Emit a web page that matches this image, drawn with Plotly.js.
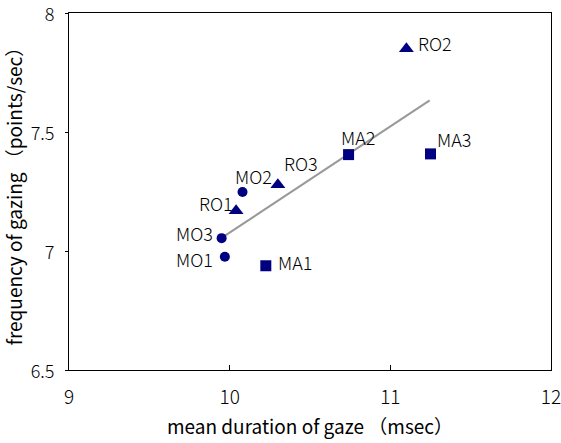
<!DOCTYPE html>
<html><head><meta charset="utf-8">
<script src="https://cdn.plot.ly/plotly-3.0.1.min.js"></script>
<style>body{margin:0;background:#fff}</style>
</head><body><div id="c" style="width:561px;height:443px"></div>
<script>
const labels = ["MO1","MO2","MO3","RO1","RO2","RO3","MA1","MA2","MA3"];
const durations = [9.97, 10.08, 9.95, 10.04, 11.10, 10.30, 10.225, 10.74, 11.25];
const frequencies = [6.976, 7.248, 7.054, 7.169, 7.85, 7.278, 6.938, 7.405, 7.408];
const groups = ["circle","circle","circle","triangle-up","triangle-up","triangle-up","square","square","square"];
const trendX = [9.95, 11.245];
const trendY = [7.055, 7.633];
const xTicks = [9, 10, 11, 12];
const yTicks = [6.5, 7, 7.5, 8];

// label placement style: [xanchor, xshift, yshift]
const labelStyle = {
 MO1:["right",-10,-2], MO2:["center",11,16], MO3:["right",-7,5], RO1:["right",-1,8],
 RO2:["left",10,6], RO3:["left",4,22], MA1:["left",10,4], MA2:["center",9,18], MA3:["left",4,15]
};
const sizes = {"circle":10,"triangle-up":13,"square":11};
const font = "Noto Sans CJK JP, sans-serif";

const traces = [
 {x: trendX, y: trendY, mode:"lines", line:{color:"#999999", width:2}, hoverinfo:"skip", showlegend:false},
 {x: durations, y: frequencies, mode:"markers",
  marker:{symbol: groups, size: groups.map(g=>sizes[g]), color:"#000080", opacity:1, line:{width:0}},
  showlegend:false}
];
const annotations = labels.map((l,i)=>({
 x: durations[i], y: frequencies[i], xref:"x", yref:"y", text:l, showarrow:false,
 xanchor: labelStyle[l][0], yanchor:"middle", xshift: labelStyle[l][1], yshift: labelStyle[l][2],
 font:{family:font, size:18, weight:300, color:"#000"}
}));
const layout = {
 width:561, height:443,
 margin:{l:69, r:10, t:13, b:73},
 paper_bgcolor:"#fff", plot_bgcolor:"#fff",
 font:{family:font, size:18, weight:300, color:"#000"},
 annotations: annotations,
 xaxis:{range:[9,12], tickvals:xTicks, ticktext:xTicks.map(String), ticks:"inside", ticklen:5, tickcolor:"#000",
   ticklabelstandoff:10, ticklabeloverflow:"allow", tickfont:{family:font, size:19, weight:300},
   showgrid:false, zeroline:false, showline:true, linecolor:"#000", linewidth:1, mirror:true,
   title:{text:"mean duration of gaze （msec）", font:{family:font, size:19, weight:400}, standoff:12}},
 yaxis:{range:[6.5,8], tickvals:yTicks, ticktext:["6.5","7","7.5","8"], ticks:"outside", ticklen:3, tickcolor:"#000",
   ticklabelstandoff:7, ticklabelshift:2, ticklabeloverflow:"allow", tickfont:{family:font, size:18, weight:300},
   automargin:"left",
   showgrid:false, zeroline:false, showline:true, linecolor:"#000", linewidth:1, mirror:true,
   title:{text:"frequency of gazing （points/sec）", font:{family:font, size:19, weight:400}, standoff:3}}
};
Plotly.newPlot("c", traces, layout, {displayModeBar:false, staticPlot:true});
</script></body></html>
